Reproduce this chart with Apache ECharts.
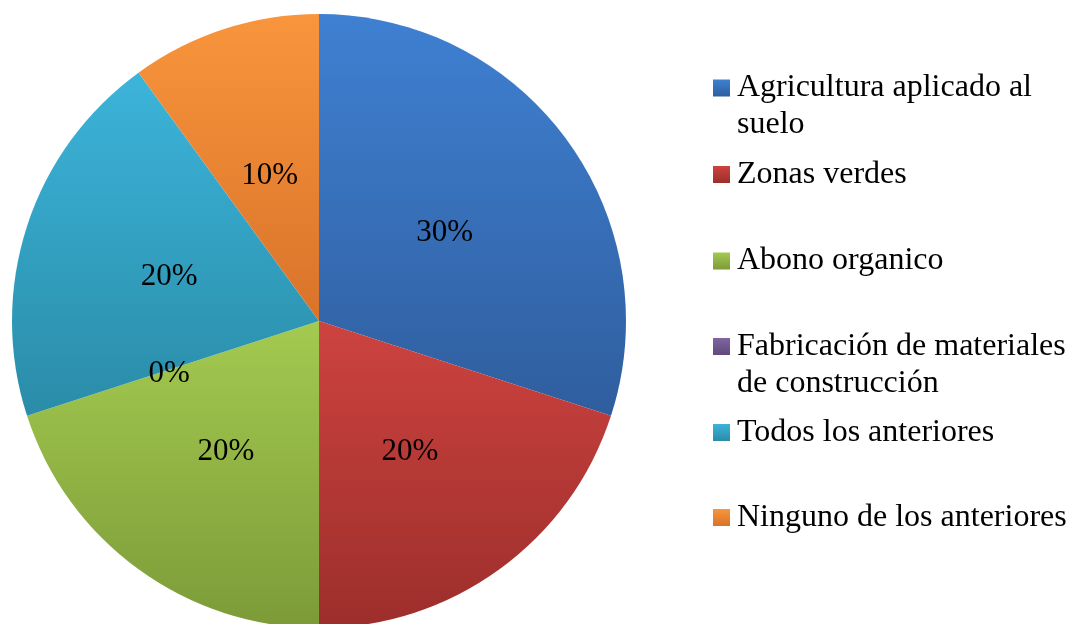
<!DOCTYPE html>
<html>
<head>
<meta charset="utf-8">
<script src="https://cdn.jsdelivr.net/npm/echarts@6/dist/echarts.min.js"></script>
<style>html,body{margin:0;padding:0;background:#fff}#c{width:1068px;height:624px}</style>
</head>
<body>
<div id="c"></div>
<script>
var categories = ['Agricultura aplicado al\nsuelo', 'Zonas verdes', 'Abono organico', 'Fabricación de materiales\nde construcción', 'Todos los anteriores', 'Ninguno de los anteriores'];
var values = [30, 20, 20, 0, 20, 10];
var topColors = ['#3F80D2', '#CD4340', '#A4CA50', '#8064A2', '#3CB4DA', '#F9953C'];
var bottomColors = ['#2F5E9E', '#9C2E2B', '#7C9B38', '#604A7B', '#2A8CA8', '#D8732A'];
var legendCenters = [88, 174.5, 261, 346.5, 432.5, 517.5];

function grad(i) {
  return new echarts.graphic.LinearGradient(0, 0, 0, 1, [
    {offset: 0, color: topColors[i]},
    {offset: 1, color: bottomColors[i]}
  ]);
}

var font = '"Liberation Serif", "Times New Roman", serif';
var lh = 37;
var legends = categories.map(function (name, i) {
  var multi = name.indexOf('\n') >= 0;
  return {
    data: [name],
    orient: 'vertical',
    left: 713,
    top: multi ? legendCenters[i] - lh * 1.5 : legendCenters[i] - lh / 2,
    padding: 0,
    itemWidth: 17,
    itemHeight: 17,
    icon: 'rect',
    selectedMode: false,
    formatter: function (n) { return n.indexOf('\n') >= 0 ? '\n' + n : n; },
    textStyle: {
      fontFamily: font,
      fontSize: 32,
      color: '#000',
      lineHeight: lh,
      padding: [0, 0, 0, 2]
    }
  };
});

var chart = echarts.init(document.getElementById('c'));
chart.setOption({
  animation: false,
  legend: legends,
  series: [{
    type: 'pie',
    center: [319, 321],
    radius: [0, 307],
    startAngle: 90,
    clockwise: true,
    avoidLabelOverlap: false,
    minShowLabelAngle: 0,
    label: {
      show: true,
      position: 'inside',
      formatter: '{d}%',
      fontFamily: font,
      fontSize: 31,
      color: '#000',
      offset: [-1, 4]
    },
    labelLine: {show: false},
    itemStyle: {borderWidth: 0},
    emphasis: {disabled: true},
    data: categories.map(function (c, i) {
      return {name: c, value: values[i], itemStyle: {color: grad(i)}};
    })
  }]
});
</script>
</body>
</html>
